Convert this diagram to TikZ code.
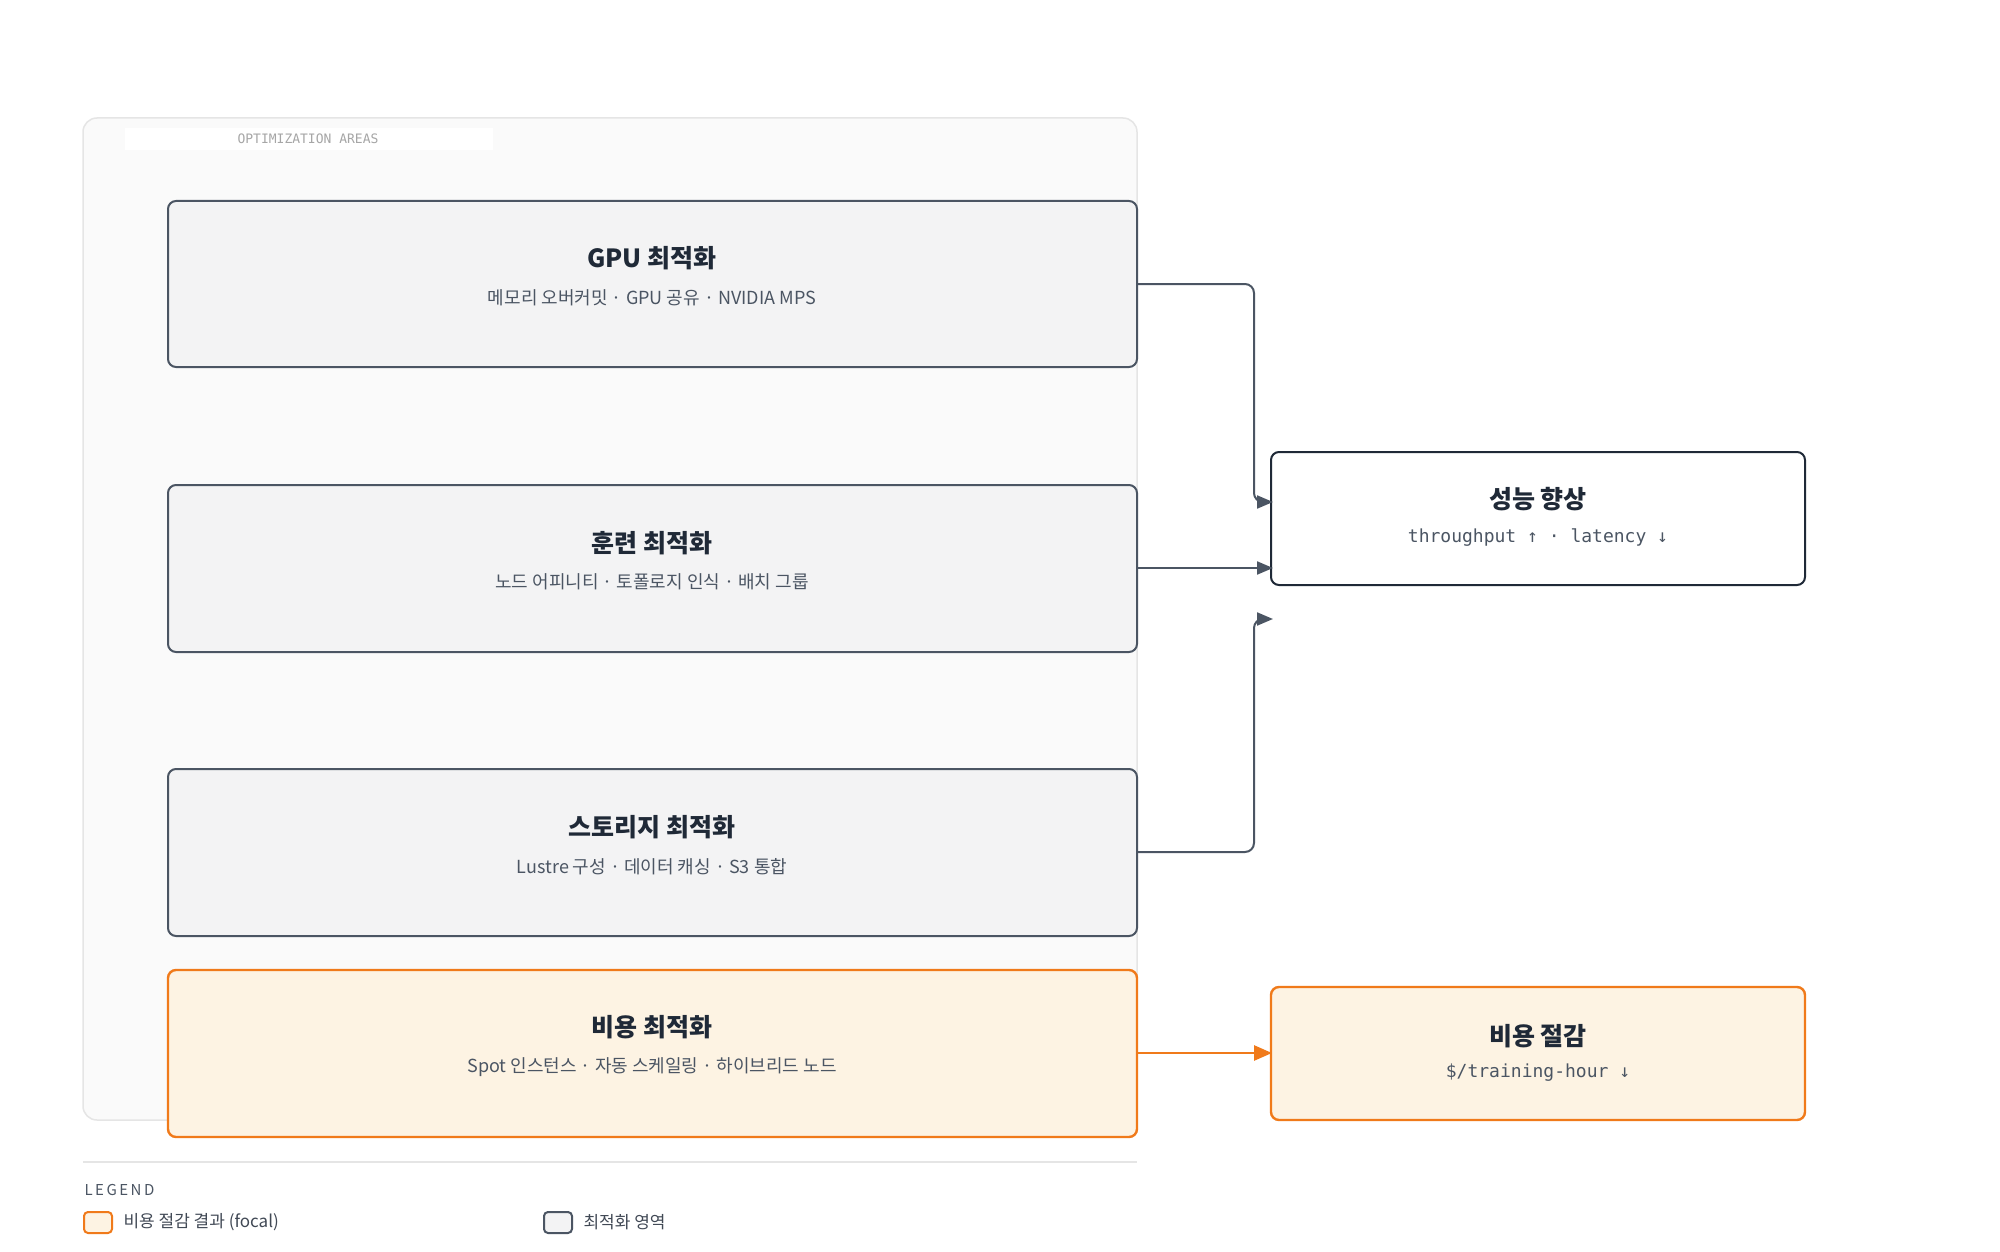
\documentclass[tikz,border=0pt]{standalone}
\usepackage{fontspec}
\setmainfont{Noto Sans CJK KR}
\newfontfamily\kr{Noto Sans CJK KR}
\newfontfamily\mono{DejaVu Sans Mono}
\usetikzlibrary{arrows.meta}
\definecolor{ink}{HTML}{1F2937}
\definecolor{sub}{HTML}{4B5563}
\definecolor{edge}{HTML}{4B5563}
\definecolor{boxfill}{HTML}{F3F3F4}
\definecolor{cont}{HTML}{FAFAFA}
\definecolor{contline}{HTML}{E5E5E5}
\definecolor{orng}{HTML}{F07A1A}
\definecolor{ofill}{HTML}{FDF3E3}
\begin{document}
\begin{tikzpicture}[x=1pt,y=-1pt,
  box/.style={draw=edge,line width=2pt,fill=boxfill,rounded corners=8pt},
  focal/.style={draw=orng,line width=2.4pt,fill=ofill,rounded corners=8pt},
  res/.style={draw=ink,line width=2pt,fill=white,rounded corners=8pt},
  ttl/.style={font=\kr\fontsize{25}{28}\selectfont\bfseries,text=ink},
  sbt/.style={font=\kr\fontsize{18}{22}\selectfont,text=sub},
  msbt/.style={font=\mono\fontsize{18}{22}\selectfont,text=sub},
  conn/.style={draw=edge,line width=2pt,rounded corners=9pt,-{Triangle[length=16pt,width=13pt]}},
  oconn/.style={draw=orng,line width=2.6pt,-{Triangle[length=18pt,width=15pt]}}]
\useasboundingbox (0,0) rectangle (2000,1252);
\fill[white] (0,0) rectangle (2000,1252);
% container
\draw[draw=contline,line width=1.5pt,fill=cont,rounded corners=14pt] (83,118) rectangle (1137,1120);
\fill[white] (125,128) rectangle (493,150);
\node[font=\mono\fontsize{13}{15}\selectfont,text=gray!70] (lbl) at (308,139) {OPTIMIZATION AREAS};
% boxes
\draw[box] (168,201) rectangle (1137,367);
\coordinate (gpuR) at (1137,284);
\node[ttl] (gpuT) at (652,258) {GPU 최적화};
\node[sbt] (gpuS) at (652,298) {메모리 오버커밋 · GPU 공유 · NVIDIA MPS};
\draw[box] (168,485) rectangle (1137,652);
\coordinate (trR) at (1137,568);
\node[ttl] (trT) at (652,543) {훈련 최적화};
\node[sbt] (trS) at (652,582) {노드 어피니티 · 토폴로지 인식 · 배치 그룹};
\draw[box] (168,769) rectangle (1137,936);
\coordinate (stR) at (1137,852);
\node[ttl] (stT) at (652,827) {스토리지 최적화};
\node[sbt] (stS) at (652,867) {Lustre 구성 · 데이터 캐싱 · S3 통합};
\draw[focal] (168,970) rectangle (1137,1137);
\coordinate (coR) at (1137,1053);
\node[ttl] (coT) at (652,1027) {비용 최적화};
\node[sbt] (coS) at (652,1067) {Spot 인스턴스 · 자동 스케일링 · 하이브리드 노드};
% results
\draw[res] (1271,452) rectangle (1805,585);
\node[ttl] (pfT) at (1538,499) {성능 향상};
\node[msbt] (pfS) at (1538,538) {throughput ↑ · latency ↓};
\coordinate (pf1) at (1273,502);
\coordinate (pf2) at (1273,568);
\coordinate (pf3) at (1273,619);
\draw[focal] (1271,987) rectangle (1805,1120);
\node[ttl] (csT) at (1538,1036) {비용 절감};
\node[msbt] (csS) at (1538,1073) {\$/training-hour ↓};
\coordinate (cs1) at (1272,1053);
% connectors
\draw[conn] (gpuR) -- (1254,284) -- (1254,502) -- (pf1);
\draw[conn] (trR) -- (pf2);
\draw[conn] (stR) -- (1254,852) -- (1254,619) -- (pf3);
\draw[oconn] (coR) -- (cs1);
% legend
\draw[contline,line width=1.5pt] (83,1162) -- (1137,1162);
\node[anchor=west,font=\kr\fontsize{15}{17}\selectfont,text=sub] (lg) at (81,1190) {L\,E\,G\,E\,N\,D};
\draw[draw=orng,line width=2pt,fill=ofill,rounded corners=4pt] (84,1212) rectangle (112,1233);
\node[anchor=west,font=\kr\fontsize{17}{20}\selectfont,text=ink!85] (l1) at (120,1222) {비용 절감 결과 (focal)};
\draw[draw=edge,line width=2pt,fill=boxfill,rounded corners=4pt] (544,1212) rectangle (572,1233);
\node[anchor=west,font=\kr\fontsize{17}{20}\selectfont,text=ink!85] (l2) at (580,1222) {최적화 영역};
\end{tikzpicture}
\end{document}
